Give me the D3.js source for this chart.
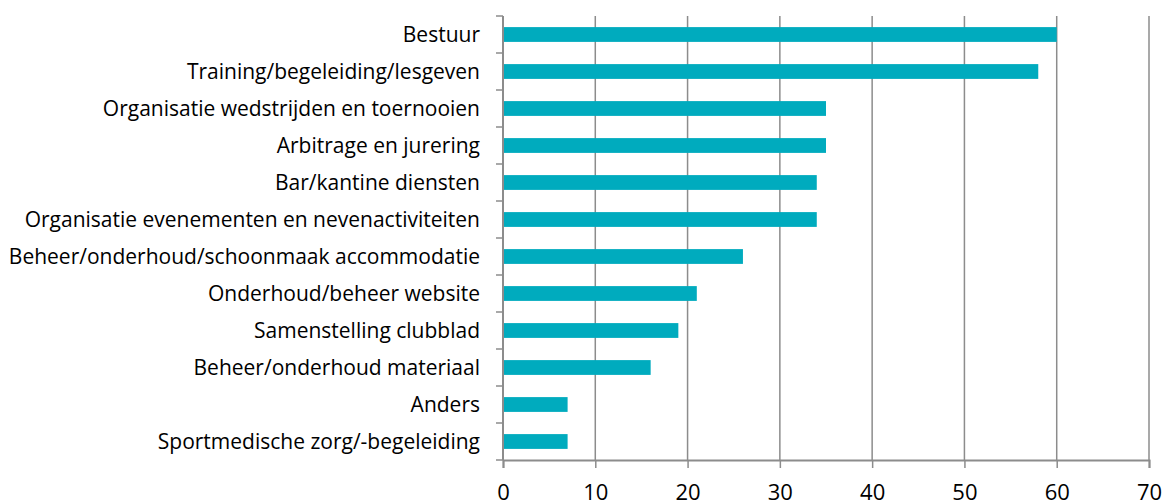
<!DOCTYPE html>
<html>
<head>
<meta charset="utf-8">
<script src="https://cdn.jsdelivr.net/npm/d3@7"></script>
<style>
  body { margin: 0; background: #fff; }
  svg text { font-family: "Open Sans", sans-serif; fill: #000; }
</style>
</head>
<body>
<div id="chart"></div>
<script>
const categories = [
  'Bestuur',
  'Training/begeleiding/lesgeven',
  'Organisatie wedstrijden en toernooien',
  'Arbitrage en jurering',
  'Bar/kantine diensten',
  'Organisatie evenementen en nevenactiviteiten',
  'Beheer/onderhoud/schoonmaak accommodatie',
  'Onderhoud/beheer website',
  'Samenstelling clubblad',
  'Beheer/onderhoud materiaal',
  'Anders',
  'Sportmedische zorg/-begeleiding'
];
const values = [60, 58, 35, 35, 34, 34, 26, 21, 19, 16, 7, 7];
const xTicks = [0, 10, 20, 30, 40, 50, 60, 70];

const width = 1164, height = 501;
const margin = {top: 16, right: 15, bottom: 41, left: 503};

const svg = d3.select('#chart').append('svg')
  .attr('width', width)
  .attr('height', height);

const x = d3.scaleLinear().domain([0, 70]).range([margin.left, width - margin.right]);
const y = d3.scaleBand().domain(categories)
  .range([margin.top, height - margin.bottom])
  .paddingInner(0.6).paddingOuter(0.3);

// gridlines
svg.append('g')
  .selectAll('line')
  .data(xTicks.slice(1))
  .enter().append('line')
  .attr('x1', d => x(d)).attr('x2', d => x(d))
  .attr('y1', margin.top).attr('y2', height - margin.bottom)
  .attr('stroke', '#8c8c8c').attr('stroke-width', 1.5);

// bars
svg.append('g')
  .selectAll('rect')
  .data(values)
  .enter().append('rect')
  .attr('x', x(0))
  .attr('y', (d, i) => y(categories[i]))
  .attr('width', d => x(d) - x(0))
  .attr('height', y.bandwidth())
  .attr('fill', '#00abbe');

// x axis
const xAxis = svg.append('g')
  .attr('transform', `translate(0,${height - margin.bottom})`)
  .call(d3.axisBottom(x).tickValues(xTicks).tickSize(8).tickPadding(16));
xAxis.select('.domain').attr('stroke', '#8c8c8c').attr('stroke-width', 2);
xAxis.selectAll('.tick line').attr('stroke', '#8c8c8c').attr('stroke-width', 1.5);
xAxis.selectAll('.tick text').style('font-size', '22px');

// y axis: ticks at band boundaries
const step = y.step();
const bounds = categories.map((c, i) => y(c) - step * y.paddingInner() / 2);
bounds.push(height - margin.bottom);
const yg = svg.append('g');
yg.append('line')
  .attr('x1', x(0)).attr('x2', x(0))
  .attr('y1', margin.top).attr('y2', height - margin.bottom)
  .attr('stroke', '#8c8c8c').attr('stroke-width', 2);
yg.selectAll('line.tk')
  .data(bounds)
  .enter().append('line').attr('class', 'tk')
  .attr('x1', x(0) - 7).attr('x2', x(0))
  .attr('y1', d => d).attr('y2', d => d)
  .attr('stroke', '#8c8c8c').attr('stroke-width', 1.5);
yg.selectAll('text')
  .data(categories)
  .enter().append('text')
  .attr('x', x(0) - 23)
  .attr('y', d => y(d) + y.bandwidth() / 2)
  .attr('dy', '0.35em')
  .attr('text-anchor', 'end')
  .style('font-size', '21px')
  .text(d => d);
</script>
</body>
</html>
